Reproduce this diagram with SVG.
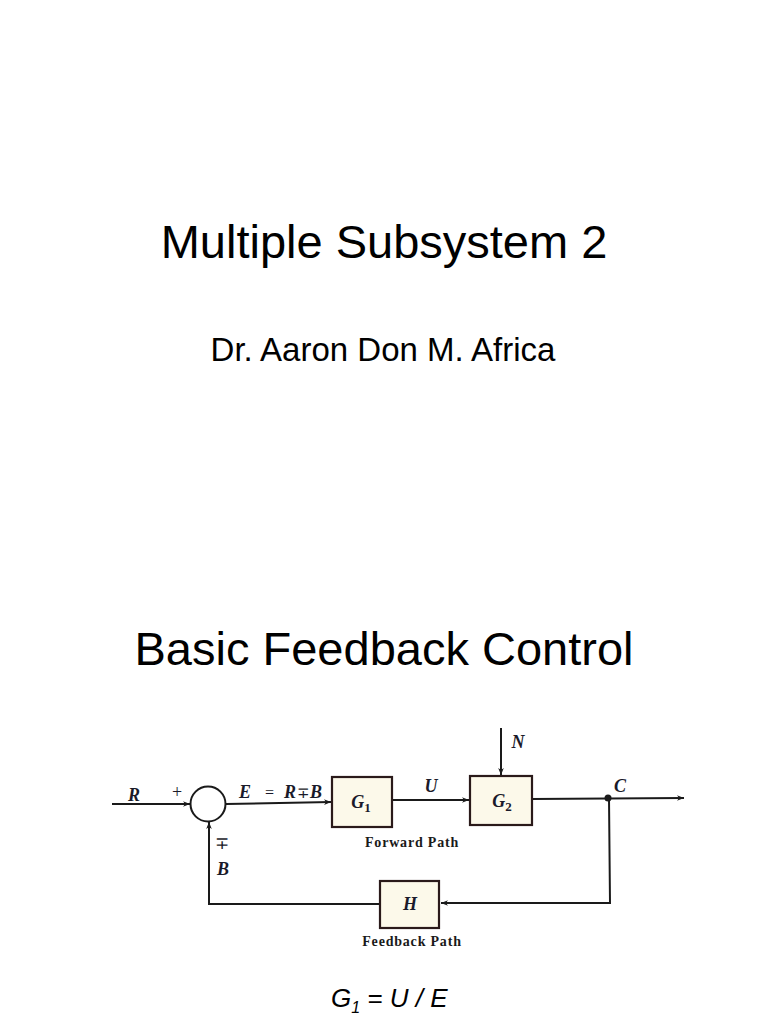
<svg xmlns="http://www.w3.org/2000/svg" width="768" height="1024" viewBox="0 0 768 1024">
<defs>
<marker id="ah" viewBox="0 0 10 10" refX="10" refY="5" markerWidth="10" markerHeight="7" orient="auto" markerUnits="userSpaceOnUse">
<path d="M0,1 L10,5 L0,9 L3,5 Z" fill="#1a1a1a"/>
</marker>
<style>
.t{font-family:"Liberation Sans",Arial,sans-serif;fill:#000;text-anchor:middle}
.v{font-family:"Liberation Serif","Times New Roman",serif;font-style:italic;font-weight:bold;font-size:18px;fill:#1a1a2a}
.cap{font-family:"Liberation Serif","Times New Roman",serif;font-weight:bold;font-size:14px;letter-spacing:0.8px;fill:#1a1a1a;text-anchor:middle}
.ln{stroke:#1a1a1a;stroke-width:2;fill:none}
.box{fill:#fcf9ea;stroke:#2a1a1a;stroke-width:2.2}
</style>
</defs>
<rect width="768" height="1024" fill="#fff"/>
<text class="t" x="384" y="258" font-size="47">Multiple Subsystem 2</text>
<text class="t" x="383" y="361" font-size="33">Dr. Aaron Don M. Africa</text>
<text class="t" x="384" y="665" font-size="47">Basic Feedback Control</text>

<g id="connectors">
<line class="ln" x1="112" y1="804" x2="190" y2="804" marker-end="url(#ah)"/>
<line class="ln" x1="226" y1="804" x2="331" y2="802" marker-end="url(#ah)"/>
<line class="ln" x1="392" y1="800" x2="469" y2="800" marker-end="url(#ah)"/>
<line class="ln" x1="501" y1="728" x2="501" y2="775" marker-end="url(#ah)"/>
<line class="ln" x1="532" y1="799" x2="684" y2="798" marker-end="url(#ah)"/>
<polyline class="ln" points="609,798 610,903 441,903" marker-end="url(#ah)"/>
<polyline class="ln" points="380,904 209,904 209,822" marker-end="url(#ah)"/>
<circle cx="608" cy="798" r="3.5" fill="#1a1a1a"/>
</g>

<g id="sum">
<circle cx="208" cy="804" r="17.5" fill="none" stroke="#1a1a1a" stroke-width="2"/>
<text class="v" x="134" y="801" text-anchor="middle">R</text>
<text x="177" y="798" font-family="Liberation Serif,serif" font-size="18" fill="#1a1a2a" text-anchor="middle">+</text>
<text x="222" y="849" font-family="Liberation Serif,serif" font-size="17" fill="#1a1a2a" text-anchor="middle">∓</text>
<text class="v" x="223" y="875" text-anchor="middle">B</text>
</g>

<g id="E-label">
<text class="v" x="239" y="798" font-size="15">E</text>
<text x="265" y="798" font-family="Liberation Serif,serif" font-size="16" fill="#1a1a2a">=</text>
<text class="v" x="284" y="798" font-size="15">R</text>
<text x="297" y="798" font-family="Liberation Serif,serif" font-size="15" fill="#1a1a2a">∓</text>
<text class="v" x="310" y="798" font-size="15">B</text>
</g>

<g id="G1">
<rect class="box" x="332" y="777" width="60" height="50"/>
<text class="v" x="361" y="808" text-anchor="middle" font-size="20">G<tspan font-size="13" dy="4" font-style="normal">1</tspan></text>
</g>
<text class="v" x="431" y="792" text-anchor="middle">U</text>

<g id="G2">
<rect class="box" x="470" y="776" width="62" height="49"/>
<text class="v" x="502" y="807" text-anchor="middle" font-size="20">G<tspan font-size="13" dy="4" font-style="normal">2</tspan></text>
</g>
<text class="v" x="518" y="748" text-anchor="middle">N</text>
<text class="v" x="620" y="792" text-anchor="middle">C</text>
<text class="cap" x="412" y="847">Forward Path</text>

<g id="H">
<rect class="box" x="380" y="881" width="59" height="47"/>
<text class="v" x="410" y="910" text-anchor="middle">H</text>
</g>
<text class="cap" x="412" y="946">Feedback Path</text>

<text x="331" y="1007" font-family="Liberation Sans,Arial,sans-serif" font-style="italic" font-size="26" fill="#000">G<tspan font-size="16" dy="6">1</tspan><tspan dy="-6"> = U / E</tspan></text>
</svg>
